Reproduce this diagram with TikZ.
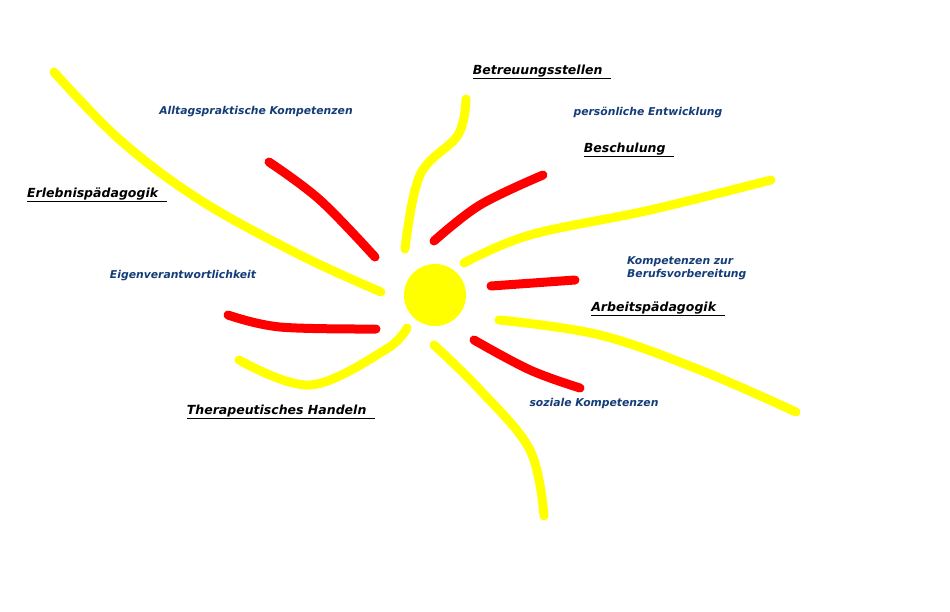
\documentclass[tikz,border=0pt]{standalone}
\usepackage{fontspec}
\setmainfont{DejaVu Sans}
\definecolor{sunY}{RGB}{255,255,0}
\definecolor{rayR}{RGB}{255,0,0}
\definecolor{lblB}{RGB}{20,60,120}
\begin{document}
\begin{tikzpicture}[x=1pt,y=-1pt,
  yray/.style={draw=sunY,line width=9pt,line cap=round,line join=round},
  rray/.style={draw=rayR,line width=9pt,line cap=round,line join=round},
  head/.style={font=\fontsize{12.5}{14}\selectfont\bfseries\itshape,text=black,inner sep=0},
  blue/.style={font=\fontsize{10.8}{13}\selectfont\bfseries\itshape,text=lblB,inner sep=0,align=left}]
\useasboundingbox[fill=white] (0,0) rectangle (950,611);
% yellow rays
\draw[yray] plot[smooth,tension=0.6] coordinates {(54,72) (120,140) (200,200) (300,255) (381,292)};
\draw[yray] plot[smooth,tension=0.6] coordinates {(466,99) (458,135) (420,175) (405,249)};
\draw[yray] plot[smooth,tension=0.6] coordinates {(771,180) (650,210) (530,235) (464,263)};
\draw[yray] plot[smooth,tension=0.6] coordinates {(499,320) (600,335) (700,370) (796,412)};
\draw[yray] plot[smooth,tension=0.6] coordinates {(434,345) (480,390) (530,450) (544,516)};
\draw[yray] plot[smooth,tension=0.6] coordinates {(407,328) (385,350) (310,385) (239,360)};
% red rays
\draw[rray] plot[smooth,tension=0.6] coordinates {(269,162) (320,200) (375,257)};
\draw[rray] plot[smooth,tension=0.6] coordinates {(543,175) (480,205) (434,241)};
\draw[rray] plot[smooth,tension=0.6] coordinates {(491,286) (575,280)};
\draw[rray] plot[smooth,tension=0.6] coordinates {(474,340) (530,370) (580,388)};
\draw[rray] plot[smooth,tension=0.6] coordinates {(228,315) (280,327) (376,329)};
% sun
\node[circle,fill=sunY,minimum size=62pt,inner sep=0] (sun) at (435,295) {};
% headings
\node[head] (betr) at (542,72) {\underline{Betreuungsstellen\ \ }};
\node[head] (besch) at (629,150) {\underline{Beschulung\ \ }};
\node[head] (erl) at (97,195) {\underline{Erlebnispädagogik\ \ }};
\node[head] (arb) at (658,309) {\underline{Arbeitspädagogik\ \ }};
\node[head] (ther) at (281,412) {\underline{Therapeutisches Handeln\ \ }};
% blue labels
\node[blue] (allt) at (256,112) {Alltagspraktische Kompetenzen};
\node[blue] (pers) at (648,112) {persönliche Entwicklung};
\node[blue] (eigen) at (183,276) {Eigenverantwortlichkeit};
\node[blue,anchor=west] (kompz) at (627,268) {Kompetenzen zur\\Berufsvorbereitung};
\node[blue] (soz) at (594,404) {soziale Kompetenzen};
\end{tikzpicture}
\end{document}
